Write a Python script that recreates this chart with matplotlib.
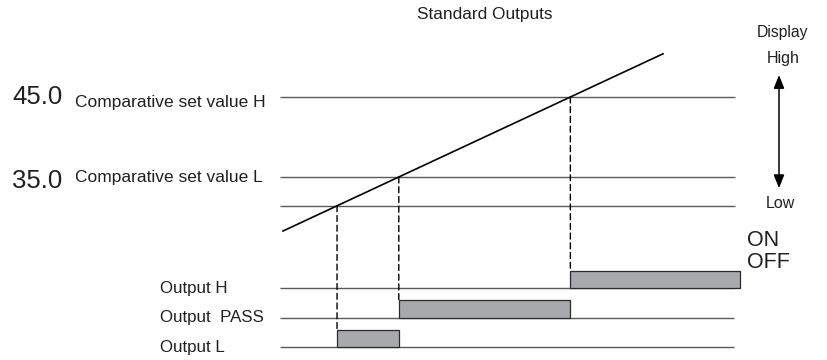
import numpy as np
import matplotlib
matplotlib.use('Agg')
import matplotlib.pyplot as plt
from matplotlib.patches import ConnectionPatch

plt.rcParams['font.family'] = ['Liberation Sans', 'DejaVu Sans']

# datos del diagrama
ramp_t = [0.0, 38.0]            # tiempo (unidades arbitrarias)
ramp_v = [28.25, 50.4]          # valor mostrado
set_h = 45.0                    # comparative set value H
set_l = 35.0                    # comparative set value L
low_level = 31.4                # linea inferior
line_t = [-0.3, 45.2]           # extension de las lineas horizontales
t_end = 45.7                    # fin de la barra Output H

row_names = ['Output L', 'Output  PASS', 'Output H']
row_idx = [0, 1, 2]

# cruces de la rampa con cada nivel
t_low = np.interp(low_level, ramp_v, ramp_t)
t_l = np.interp(set_l, ramp_v, ramp_t)
t_h = np.interp(set_h, ramp_v, ramp_t)
on_start = [t_low, t_l, t_h]
on_stop = [t_l, t_h, t_end]

txt = '#231f20'
gray_line = '#5a5a5a'
bar_col = '#a7a9ac'

fig = plt.figure(figsize=(8.28, 3.6), dpi=100)
ax = fig.add_axes([0, 0, 1, 1])
ax.set_xlim(-28.3, 54.5)
ax.set_ylim(12.125, 57.125)
ax.axis('off')

axb = fig.add_axes([0, 0, 1, 1], sharex=ax)
axb.set_ylim(-0.44, 11.76)
axb.axis('off')
axb.patch.set_alpha(0)

# lineas horizontales de niveles
for lv in [set_h, set_l, low_level]:
    ax.plot(line_t, [lv, lv], color=gray_line, lw=1.0, solid_capstyle='butt')

# rampa
ax.plot(ramp_t, ramp_v, color='black', lw=1.2)

# filas de salida
bar_h = 0.58
for i, name in zip(row_idx, row_names):
    axb.plot([line_t[0], line_t[1] - 0.1], [i, i], color=gray_line, lw=1.0, solid_capstyle='butt')
    axb.bar(on_start[i], bar_h, width=on_stop[i] - on_start[i], bottom=i, align='edge',
            color=bar_col, edgecolor='#2b2b2b', lw=0.9, zorder=3)
    axb.text(-12.3, i, name, ha='left', va='center', fontsize=12.2, color=txt)

# lineas verticales discontinuas
for t0, lv, i in zip(on_start, [low_level, set_l, set_h], row_idx):
    con = ConnectionPatch(xyA=(t0, lv), coordsA=ax.transData,
                          xyB=(t0, i + bar_h), coordsB=axb.transData,
                          color='black', lw=1.0, linestyle=(0, (4.3, 2.7)))
    fig.add_artist(con)

# etiquetas de los valores
ax.text(-27.1, set_h, f'{set_h:.1f}', ha='left', va='center', fontsize=18.5, color=txt)
ax.text(-20.8, set_h - 1.25, 'Comparative set value H', ha='left', va='baseline', fontsize=12.5, color=txt)
ax.text(-27.1, set_l - 1.35, f'{set_l:.1f}', ha='left', va='baseline', fontsize=18.5, color=txt)
ax.text(-20.8, set_l - 0.6, 'Comparative set value L', ha='left', va='baseline', fontsize=12.5, color=txt)

fig.text(485 / 828, 1 - 15 / 360, 'Standard Outputs', ha='center', va='center', fontsize=12.4, color=txt)

# escala Display a la derecha
fig.text(783 / 828, 1 - 33 / 360, 'Display', ha='center', va='center', fontsize=11.3, color=txt)
fig.text(783 / 828, 1 - 58 / 360, 'High', ha='center', va='center', fontsize=11.5, color=txt)
fig.text(780 / 828, 1 - 203 / 360, 'Low', ha='center', va='center', fontsize=11.5, color=txt)
ax.annotate('', xy=(49.6, 47.75), xytext=(49.6, 33.6),
            arrowprops=dict(arrowstyle='<|-|>,head_length=0.5,head_width=0.2', color='black',
                            lw=1.1, mutation_scale=16, shrinkA=0, shrinkB=0))

fig.text(747 / 828, 1 - 240 / 360, 'ON', ha='left', va='center', fontsize=15.5, color=txt)
fig.text(747 / 828, 1 - 262 / 360, 'OFF', ha='left', va='center', fontsize=15.5, color=txt)

fig.savefig('out.png', dpi=100)
plt.close()
